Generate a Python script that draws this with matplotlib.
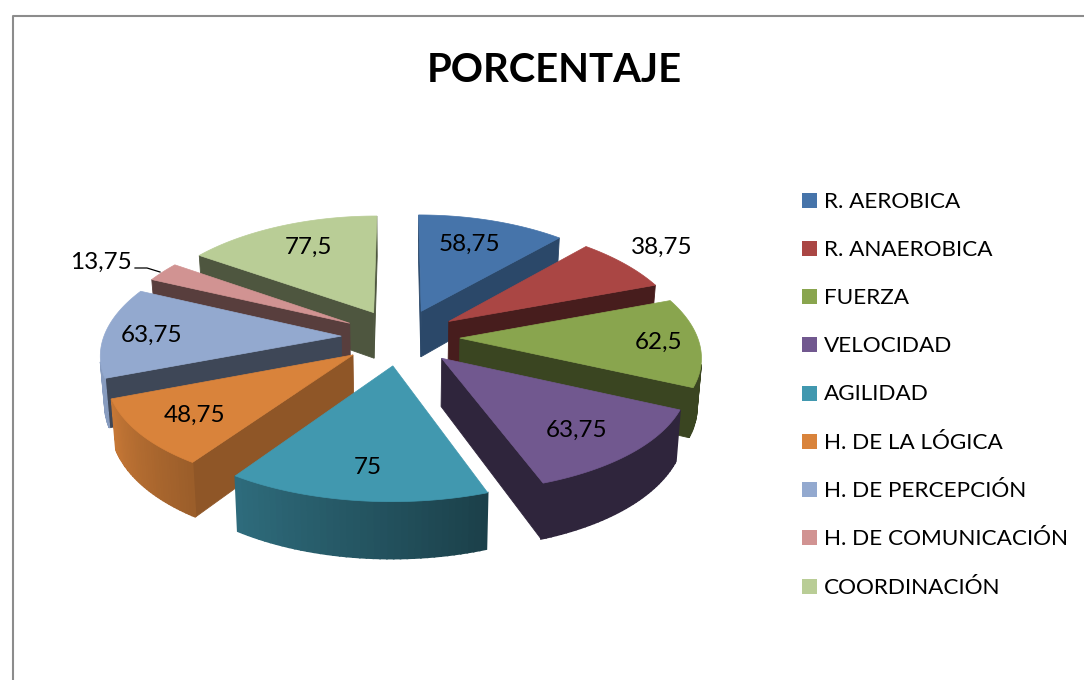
import numpy as np
import matplotlib
matplotlib.use('Agg')
import matplotlib.pyplot as plt

plt.rcParams['font.family'] = ['Lato', 'DejaVu Sans']

title = "PORCENTAJE"
categories = ["R. AEROBICA", "R. ANAEROBICA", "FUERZA", "VELOCIDAD", "AGILIDAD",
              "H. DE LA LÓGICA", "H. DE PERCEPCIÓN", "H. DE COMUNICACIÓN", "COORDINACIÓN"]
values = [58.75, 38.75, 62.5, 63.75, 75, 48.75, 63.75, 13.75, 77.5]
value_labels = ["58,75", "38,75", "62,5", "63,75", "75", "48,75", "63,75", "13,75", "77,5"]

colors = ["#4674aa", "#aa4644", "#89a54e", "#71588f", "#4198af",
          "#d9833b", "#93a9cf", "#d19392", "#b9cd96"]
wall_shade = [0.62, 0.42, 0.42, 0.42, 0.5, 0.66, 0.42, 0.42, 0.42]

# label centres in picture pixels
label_xy = [(469, 244), (662, 247), (659, 342), (577, 430), (368, 468),
            (195, 415), (152, 335), (101, 262), (308, 247)]

# projection of the exploded pie
cx, cy = 400.5, 337
R, T, k, k_y = 237.5, 113, 0.14, 0.115
explode = 0.25
height = 47
bottom_scale = 0.985


def project(X, Y, z=0.0):
    s = 1 / (1 + k * Y)
    scale = 1 - (1 - bottom_scale) * z
    return cx + R * X * s * scale, cy - T * Y / (1 + k_y * Y) + height * s * z


def mix(color, f):
    return tuple(min(1, c * f) for c in matplotlib.colors.to_rgb(color))


def rim_shade(theta):
    # lighter on the left of the pie, darker on the right
    return np.interp(theta, [110, 160, 215, 250, 300], [0.42, 0.42, 0.72, 0.92, 0.95])


def draw_quad(ax, p0, p1, p2, p3, color, zorder, lw=0.6):
    # screen winding tells if the wall faces the viewer
    xs = np.array([p0[0], p1[0], p2[0], p3[0]])
    ys = np.array([p0[1], p1[1], p2[1], p3[1]])
    area = np.sum(xs * np.roll(ys, -1) - np.roll(xs, -1) * ys)
    if area < 0:
        ax.fill(xs, ys, facecolor=color, edgecolor=color, linewidth=lw, zorder=zorder)


def draw_slice(ax, start, end, color, shade, zorder):
    mid = np.radians((start + end) / 2)
    x0, y0 = explode * np.sin(mid), explode * np.cos(mid)
    th = np.radians(np.linspace(start, end, 40))
    rx, ry = x0 + np.sin(th), y0 + np.cos(th)

    wall = mix(color, shade)
    # radial walls, with the boundary always walked the same way round
    draw_quad(ax, project(x0, y0), project(rx[0], ry[0]),
              project(rx[0], ry[0], 1), project(x0, y0, 1), wall, zorder)
    draw_quad(ax, project(rx[-1], ry[-1]), project(x0, y0),
              project(x0, y0, 1), project(rx[-1], ry[-1], 1), wall, zorder)
    # outer wall
    for i in range(len(th) - 1):
        f = rim_shade(np.degrees(th[i]))
        draw_quad(ax, project(rx[i], ry[i]), project(rx[i + 1], ry[i + 1]),
                  project(rx[i + 1], ry[i + 1], 1), project(rx[i], ry[i], 1),
                  mix(color, f), zorder, lw=1.2)
    # top face
    px, py = project(np.r_[x0, rx], np.r_[y0, ry])
    ax.fill(px, py, facecolor=color, edgecolor=color, linewidth=0.5, zorder=zorder)


fig = plt.figure(figsize=(10.84, 6.8), dpi=100)
ax = fig.add_axes([0, 0, 1, 1])
ax.set_xlim(0, 1084)
ax.set_ylim(680, 0)
ax.axis('off')

# chart frame, cut by the right and bottom of the picture
ax.plot([12.5, 12.5, 1084], [680, 15.5, 15.5], color="#8c8c8c", linewidth=1.5)

ax.text(554, 70, title, fontsize=28.8, fontweight='bold', ha='center', va='center', color='black')

angles = np.r_[0, np.cumsum(values)] / np.sum(values) * 360
mids = (angles[:-1] + angles[1:]) / 2
# back slices first
order = np.argsort(-np.cos(np.radians(mids)))
for z, i in enumerate(order):
    draw_slice(ax, angles[i], angles[i + 1], colors[i], wall_shade[i], 2 + z)

for (x, y), text in zip(label_xy, value_labels):
    ax.text(x, y, text, fontsize=17.5, ha='center', va='center', color='black', zorder=20)

# leader of the small slice
ax.plot([135, 147, 160], [268, 268, 272], color='black', linewidth=0.9, zorder=20)

# legend
for n, (name, color) in enumerate(zip(categories, colors)):
    y = 200 + n * 48.25
    ax.fill([802, 817, 817, 802], [y - 7.5, y - 7.5, y + 7.5, y + 7.5], color=color, linewidth=0)
    ax.text(824, y + 1.5, name, fontsize=16.2, ha='left', va='center', color='black')

fig.savefig('out.png', dpi=100)
